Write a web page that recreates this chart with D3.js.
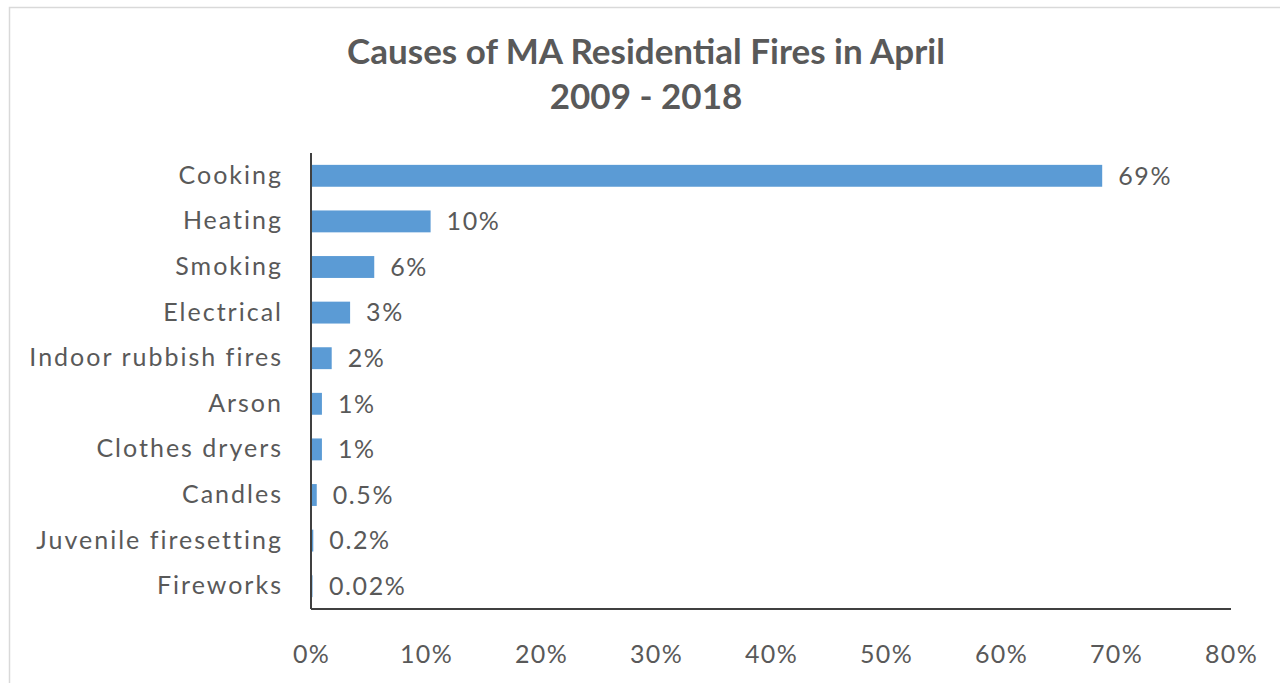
<!DOCTYPE html>
<html>
<head>
<meta charset="utf-8">
<script src="https://cdn.jsdelivr.net/npm/d3@7"></script>
<style>
  html, body { margin: 0; padding: 0; background: #fff; }
  #chart { width: 1280px; height: 683px; }
  text { font-family: Lato, "Open Sans", sans-serif; fill: #595959; }
</style>
</head>
<body>
<div id="chart"></div>
<script>
// chart data
var causes = ["Cooking", "Heating", "Smoking", "Electrical", "Indoor rubbish fires",
              "Arson", "Clothes dryers", "Candles", "Juvenile firesetting", "Fireworks"];
var shares = [0.688, 0.104, 0.055, 0.034, 0.018, 0.0095, 0.0095, 0.005, 0.002, 0.0002];
var shareLabels = ["69%", "10%", "6%", "3%", "2%", "1%", "1%", "0.5%", "0.2%", "0.02%"];
var xTicks = [0, 0.1, 0.2, 0.3, 0.4, 0.5, 0.6, 0.7, 0.8];
var titleLines = ["Causes of MA Residential Fires in April", "2009 - 2018"];

var chartDiv = document.getElementById("chart");
var svg = d3.select(chartDiv).append("svg")
  .attr("width", 1280)
  .attr("height", 683);

// outer chart frame (runs off the right and bottom edges)
svg.append("rect")
  .attr("x", 9.5).attr("y", 7.5)
  .attr("width", 1300).attr("height", 700)
  .attr("fill", "#fff")
  .attr("stroke", "#d9d9d9")
  .attr("stroke-width", 1.5);

// title
svg.selectAll("text.title")
  .data(titleLines)
  .enter()
  .append("text")
    .attr("class", "title")
    .attr("x", 646)
    .attr("y", function(d, i) { return 64 + i * 45; })
    .attr("text-anchor", "middle")
    .attr("font-size", 35)
    .attr("font-weight", "bold")
    .text(function(d) { return d; });

var plotLeft = 311, plotRight = 1231, plotTop = 153, plotBottom = 609;
var fontSize = 25;

var xScale = d3.scaleLinear()
  .domain([0, 0.8])
  .range([plotLeft, plotRight]);

var yScale = d3.scaleBand()
  .domain(causes)
  .range([plotTop, plotBottom])
  .paddingInner(0.52)
  .paddingOuter(0.26);

// bars
svg.selectAll("rect.bar")
  .data(shares)
  .enter()
  .append("rect")
    .attr("class", "bar")
    .attr("x", xScale(0))
    .attr("y", function(d, i) { return yScale(causes[i]); })
    .attr("width", function(d) { return Math.max(xScale(d) - xScale(0), 1.5); })
    .attr("height", yScale.bandwidth())
    .attr("fill", "#5b9bd5");

// value labels
svg.selectAll("text.value")
  .data(shares)
  .enter()
  .append("text")
    .attr("class", "value")
    .attr("x", function(d) { return Math.max(xScale(d), xScale(0) + 2) + 16; })
    .attr("y", function(d, i) { return yScale(causes[i]) + yScale.bandwidth() / 2; })
    .attr("dy", "0.35em")
    .attr("font-size", fontSize)
    .attr("letter-spacing", 1.6)
    .text(function(d, i) { return shareLabels[i]; });

// y axis (category labels)
var yAxis = d3.axisLeft(yScale).tickSize(0).tickPadding(28);
var gy = svg.append("g")
  .attr("transform", "translate(" + plotLeft + ",0)")
  .call(yAxis);
gy.select(".domain").remove();
gy.selectAll("text")
  .attr("font-size", fontSize)
  .attr("font-family", null)
  .attr("letter-spacing", 2)
  .attr("fill", "#595959");

// x axis (tick labels only, the baseline is drawn separately)
var xAxis = d3.axisBottom(xScale)
  .tickValues(xTicks)
  .tickFormat(d3.format(".0%"))
  .tickSize(0)
  .tickPadding(36);
var gx = svg.append("g")
  .attr("transform", "translate(0," + plotBottom + ")")
  .call(xAxis);
gx.select(".domain").remove();
gx.selectAll("text")
  .attr("font-size", fontSize)
  .attr("font-family", null)
  .attr("letter-spacing", 1.3)
  .attr("fill", "#595959");

// axis lines
svg.append("line")
  .attr("x1", plotLeft).attr("x2", plotLeft)
  .attr("y1", plotTop).attr("y2", plotBottom)
  .attr("stroke", "#404040").attr("stroke-width", 2);
svg.append("line")
  .attr("x1", plotLeft).attr("x2", plotRight)
  .attr("y1", plotBottom).attr("y2", plotBottom)
  .attr("stroke", "#404040").attr("stroke-width", 2);
</script>
</body>
</html>
